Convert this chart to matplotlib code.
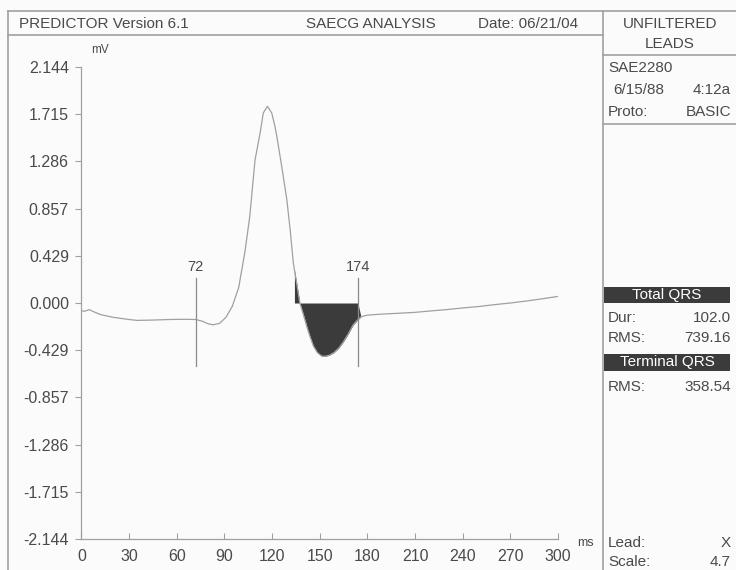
import matplotlib
matplotlib.use("Agg")
import matplotlib.pyplot as plt
from matplotlib.lines import Line2D
from matplotlib.patches import Rectangle

plt.rcParams['font.family'] = ['Liberation Sans', 'DejaVu Sans']

# signal-averaged ECG, lead X (ms, mV)
time_ms = [0, 2, 5, 7, 12, 20, 30, 35, 45, 55, 65, 72, 76, 80, 83, 87, 91, 95,
           99, 103, 106, 109.3, 112.5, 114.5, 117.1, 119.8, 121.9, 123, 126.1,
           129.3, 131.4, 133.4, 134.1, 135.5, 137.5, 140, 142, 144, 146, 148.5,
           151, 153, 156, 159, 162, 165, 168, 171, 174, 176, 180, 190, 200,
           210, 220, 230, 240, 250, 260, 270, 280, 290, 300]
signal_mv = [-0.07, -0.075, -0.06, -0.075, -0.105, -0.13, -0.15, -0.158, -0.155,
             -0.15, -0.148, -0.15, -0.165, -0.19, -0.198, -0.185, -0.13, -0.03,
             0.14, 0.47, 0.79, 1.3, 1.545, 1.727, 1.787, 1.727, 1.6, 1.515, 1.24,
             0.94, 0.666, 0.364, 0.30, 0.18, 0.0, -0.12, -0.22, -0.31, -0.39,
             -0.45, -0.48, -0.485, -0.475, -0.45, -0.41, -0.35, -0.28, -0.2,
             -0.152, -0.125, -0.11, -0.1, -0.093, -0.085, -0.072, -0.06, -0.045,
             -0.032, -0.015, 0.0, 0.018, 0.038, 0.06]

onset_ms, offset_ms = 72, 174
fill_start_ms = 134.1
y_ticks = [2.144, 1.715, 1.286, 0.857, 0.429, 0.000, -0.429, -0.857, -1.286, -1.715, -2.144]
x_ticks = [0, 30, 60, 90, 120, 150, 180, 210, 240, 270, 300]

W, H = 736, 570
BG = "#fbfbfb"
LINE = "#a0a0a0"
TXT = "#4a4a4a"
DARK = "#3b3b3b"


def fx(x):
    return x / W


def fy(y):
    return 1 - y / H


fig = plt.figure(figsize=(W / 100, H / 100), dpi=100, facecolor=BG)

# main plot: x=0 at px 81.4, x=300 at px 558; y=2.144 at px 67, -2.144 at px 539
ax = fig.add_axes([fx(81.4), fy(539), (558 - 81.4) / W, (539 - 67) / H])
ax.set_facecolor(BG)
ax.plot(time_ms, signal_mv, color="#a0a0a0", lw=0.9)
ax.fill_between(time_ms, signal_mv, 0,
                where=[fill_start_ms <= t <= offset_ms for t in time_ms],
                color=DARK, lw=0, interpolate=True)
for m in (onset_ms, offset_ms):
    ax.plot([m, m], [0.227, -0.576], color="#8a8a8a", lw=0.9)
    ax.text(m, 0.33, str(m), ha="center", va="center", color=TXT, fontsize=10.5)

ax.set_xlim(0, 300)
ax.set_ylim(-2.144, 2.144)
ax.set_yticks(y_ticks)
ax.set_yticklabels([f"{v:.3f}" for v in y_ticks])
ax.set_xticks(x_ticks)
ax.spines[["top", "right"]].set_visible(False)
for s in ("left", "bottom"):
    ax.spines[s].set_color(LINE)
    ax.spines[s].set_linewidth(0.9)
ax.tick_params(axis="y", direction="out", length=4, color=LINE, labelcolor=TXT,
               labelsize=11.5, pad=5)
ax.tick_params(axis="x", direction="in", length=4, color=LINE, labelcolor=TXT,
               labelsize=11.5, pad=7)

fig.text(fx(100), fy(50), "mV", ha="center", va="center", color=TXT, fontsize=8.5)
fig.text(fx(585), fy(543), "ms", ha="center", va="center", color=TXT, fontsize=9)

# frame lines
def hline(y, x0, x1):
    fig.add_artist(Line2D([fx(x0), fx(x1)], [fy(y), fy(y)], color=LINE, lw=1.2))


def vline(x, y0, y1):
    fig.add_artist(Line2D([fx(x), fx(x)], [fy(y0), fy(y1)], color=LINE, lw=1.2))


hline(11, 8, 736)
hline(35, 8, 603)
hline(55, 603, 736)
hline(124, 603, 736)
vline(8, 11, 570)
vline(603, 11, 570)

# header
fig.text(fx(19), fy(24), "PREDICTOR Version 6.1", ha="left", va="center", color=TXT, fontsize=11)
fig.text(fx(371), fy(24), "SAECG ANALYSIS", ha="center", va="center", color=TXT, fontsize=11)
fig.text(fx(528), fy(24), "Date: 06/21/04", ha="center", va="center", color=TXT, fontsize=11)
fig.text(fx(670), fy(24), "UNFILTERED", ha="center", va="center", color=TXT, fontsize=11)
fig.text(fx(670), fy(44), "LEADS", ha="center", va="center", color=TXT, fontsize=11)

# side panel
def row(y, left, right=None, lx=608):
    fig.text(fx(lx), fy(y), left, ha="left", va="center", color=TXT, fontsize=11)
    if right is not None:
        fig.text(fx(731), fy(y), right, ha="right", va="center", color=TXT, fontsize=11)


def band(y0, y1, label):
    fig.add_artist(Rectangle((fx(604), fy(y1)), fx(730 - 604), (y1 - y0) / H,
                             transform=fig.transFigure, color=DARK, lw=0))
    fig.text(fx(667), fy((y0 + y1) / 2), label, ha="center", va="center",
             color="white", fontsize=11)


row(68, "SAE2280")
row(90, "6/15/88", "4:12a", lx=613)
row(112, "Proto:", "BASIC")
band(286.5, 303, "Total QRS")
row(318, "Dur:", "102.0")
row(338, "RMS:", "739.16")
band(354, 370.5, "Terminal QRS")
row(387, "RMS:", "358.54")
row(543, "Lead:", "X")
row(562, "Scale:", "4.7")

fig.savefig("out.png", dpi=100, facecolor=BG)
